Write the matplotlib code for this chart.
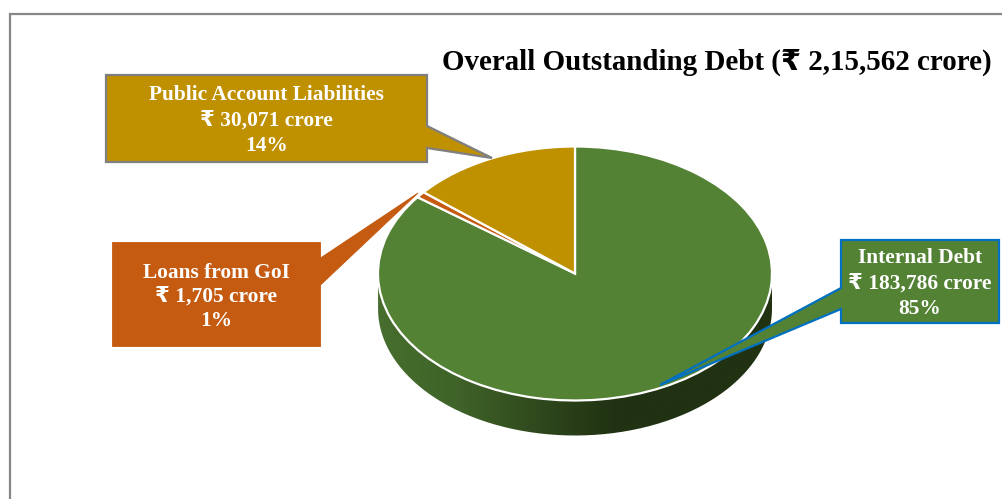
import matplotlib
matplotlib.use("Agg")
import matplotlib.pyplot as plt
import numpy as np
from matplotlib.colors import LinearSegmentedColormap
from matplotlib.patches import Polygon, PathPatch
from matplotlib.path import Path

W, H = 1002, 499
SERIF = ["Liberation Serif", "DejaVu Sans"]

TITLE = "Overall Outstanding Debt (₹ 2,15,562 crore)"
names = ["Internal Debt", "Loans from GoI", "Public Account Liabilities"]
amounts = [183786, 1705, 30071]
amount_labels = ["183,786", "1,705", "30,071"]
percents = [85, 1, 14]
colors = ["#548235", "#c55a11", "#bf9000"]
edges = ["#0070c0", "#c55a11", "#7f7f7f"]

# pie ellipse in pixels
CX, CY, RX, RY = 575, 273.5, 197, 127
DEPTH = 35

# box (x0, y0, x1, y1) and pointer (start, tip, end)
boxes = [(841, 240, 999, 323), (112.5, 242.5, 320.5, 346.5), (106, 75, 427, 162)]
pointers = [
    [(841, 288), (660, 385), (841, 309)],
    [(320.5, 258), (418, 193), (320.5, 285)],
    [(427, 126), (492, 158), (427, 148)],
]
text_y = [258, 284, 309], [273, 297, 321], [95, 121, 146]

fig = plt.figure(figsize=(W / 100, H / 100), dpi=100)
ax = fig.add_axes([0, 0, 1, 1])
ax.set_xlim(0, W)
ax.set_ylim(H, 0)
ax.axis("off")

# outer frame, runs off the right and bottom edge
ax.plot([10.5, 10.5, W], [H, 13.5, 13.5], color="#868686", lw=1.6, solid_joinstyle="miter")

# side wall of the pie, shaded left to right
theta = np.linspace(np.pi, 0, 200)
wall = np.column_stack([
    np.r_[CX - RX, CX + RX * np.cos(theta), CX + RX],
    np.r_[CY, CY + DEPTH + RY * np.sin(theta), CY],
])
wall_patch = PathPatch(Path(wall), fc="none", ec="none", transform=ax.transData)
ax.add_patch(wall_patch)
shade = LinearSegmentedColormap.from_list(
    "wall", [(0, "#476e2e"), (0.2, "#3f6328"), (0.4, "#30491d"), (0.6, "#203212"), (1, "#203212")]
)
im = ax.imshow(
    np.linspace(0, 1, 256)[None, :], cmap=shade, aspect="auto",
    extent=(CX - RX, CX + RX, CY + RY + DEPTH + 3, CY), zorder=1,
)
im.set_clip_path(wall_patch)
ax.set_xlim(0, W)
ax.set_ylim(H, 0)

# the top of the pie has its own axes so it can be squashed to an ellipse
pie_ax = fig.add_axes([(CX - RX) / W, 1 - (CY + RY) / H, 2 * RX / W, 2 * RY / H], zorder=2)
pie_ax.patch.set_alpha(0)
pie_ax.pie(
    amounts, colors=colors, startangle=90, counterclock=False, radius=1,
    wedgeprops={"edgecolor": "white", "linewidth": 1.6},
)
pie_ax.set_aspect("auto")
pie_ax.set_xlim(-1, 1)
pie_ax.set_ylim(-1, 1)
for patch in pie_ax.patches:
    patch.set_clip_on(False)

# callouts go above the pie
over = fig.add_axes([0, 0, 1, 1], zorder=3)
over.set_xlim(0, W)
over.set_ylim(H, 0)
over.axis("off")
over.text(716.5, 62, TITLE, family=SERIF, weight="bold", fontsize=20.9,
          color="black", ha="center", va="center")

for i, name in enumerate(names):
    x0, y0, x1, y1 = boxes[i]
    start, tip, end = pointers[i]
    if i == 0:
        outline = [(x0, y0), (x1, y0), (x1, y1), (x0, y1), end, tip, start]
    else:
        outline = [(x0, y0), (x1, y0), start, tip, end, (x1, y1), (x0, y1)]
    over.add_patch(Polygon(outline, closed=True, fc=colors[i], ec=edges[i],
                           lw=1.6 if i != 1 else 0.6, joinstyle="miter"))
    xc = (x0 + x1) / 2
    rows = [name, f"₹ {amount_labels[i]} crore", f"{percents[i]}%"]
    for row, y in zip(rows, text_y[i]):
        over.text(xc, y, row, family=SERIF, weight="bold", fontsize=15.4,
                  color="white", ha="center", va="center")

fig.savefig("out.png", dpi=100)
